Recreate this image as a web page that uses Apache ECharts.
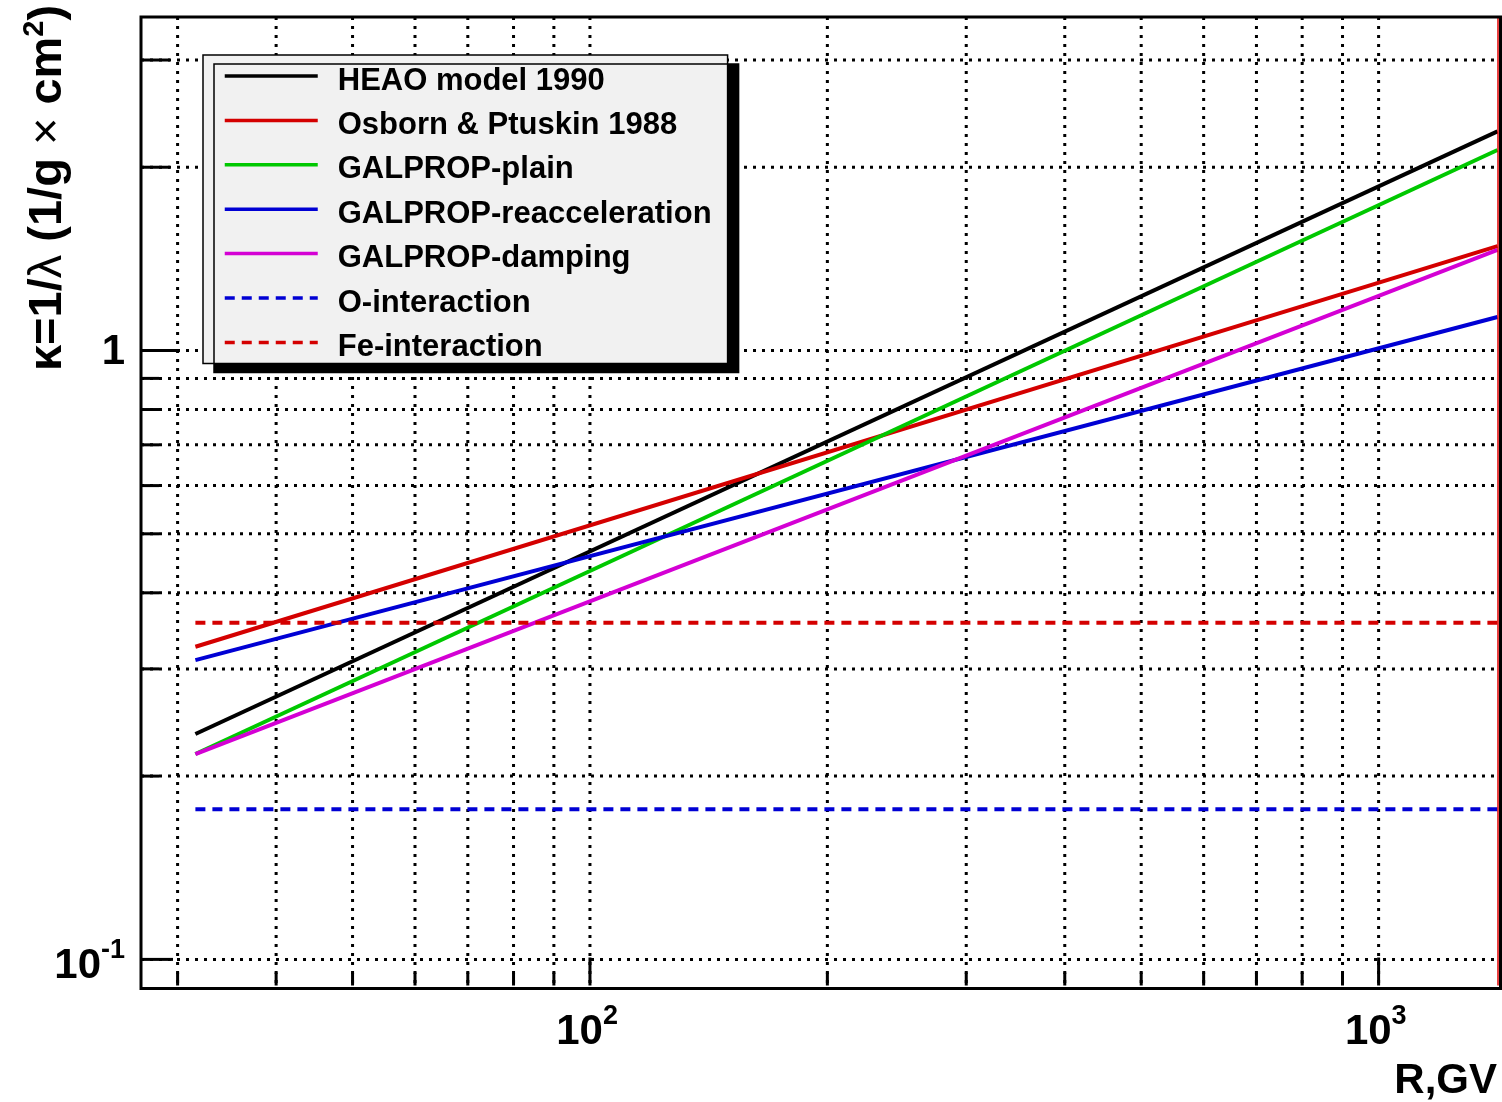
<!DOCTYPE html>
<html>
<head>
<meta charset="utf-8">
<script src="https://cdn.jsdelivr.net/npm/echarts@6/dist/echarts.min.js"></script>
<style>
  html, body { margin: 0; padding: 0; background: #fff; }
  #chart { width: 1502px; height: 1102px; }
</style>
</head>
<body>
<div id="chart"></div>
<script>
// rigidity R (GV) at the two ends of each curve
const rigidity = [31.6, 1415];

// kappa = 1/lambda values
const heao = [0.2345, 2.29];
const osborn = [0.3262, 1.484];
const galpropPlain = [0.2174, 2.135];
const galpropReacc = [0.3101, 1.135];
const galpropDamping = [0.2174, 1.463];
const oInteraction = [0.1765, 0.1765];
const feInteraction = [0.3572, 0.3572];

const seriesNames = ['HEAO model 1990', 'Osborn & Ptuskin 1988', 'GALPROP-plain',
  'GALPROP-reacceleration', 'GALPROP-damping', 'O-interaction', 'Fe-interaction'];

// axis ranges and ticks
const xMin = 26.96, xMax = 1415;
const yMin = 0.0906, yMax = 3.53;
const xMajor = [100, 1000];
const xMajorExp = ['2', '3'];
const xMinor = [30, 40, 50, 60, 70, 80, 90, 200, 300, 400, 500, 600, 700, 800, 900];
const yMajor = [0.1, 1];
const yMajorBase = ['10', '1'];
const yMajorExp = ['-1', ''];
const yMinor = [0.2, 0.3, 0.4, 0.5, 0.6, 0.7, 0.8, 0.9, 2, 3];

const FONT = '"Liberation Sans", Arial, Helvetica, sans-serif';
const gridStyle = { stroke: '#000', lineWidth: 3, lineDash: [3, 6], fill: null };
const tickStyle = { stroke: '#000', lineWidth: 3, fill: null };

function pairs(ys) {
  return rigidity.map((r, i) => [r, ys[i]]);
}

function renderXTick(params, api) {
  const cs = params.coordSys;
  const major = api.value(2) === 1;
  const x = api.coord([api.value(0), 1])[0];
  const bottom = cs.y + cs.height;
  const children = [
    { type: 'line', shape: { x1: x, y1: cs.y, x2: x, y2: bottom }, style: gridStyle },
    { type: 'line', shape: { x1: x, y1: bottom, x2: x, y2: bottom - (major ? 28 : 13) }, style: tickStyle }
  ];
  if (major) {
    const i = api.value(3);
    children.push({
      type: 'text',
      style: { text: '10', x: x + 13, y: bottom + 47, fill: '#000', align: 'right', verticalAlign: 'middle',
        font: 'bold 42px ' + FONT }
    });
    children.push({
      type: 'text',
      style: { text: xMajorExp[i], x: x + 13, y: bottom + 31, fill: '#000', align: 'left', verticalAlign: 'middle',
        font: 'bold 27px ' + FONT }
    });
  }
  return { type: 'group', children: children };
}

function renderYTick(params, api) {
  const cs = params.coordSys;
  const major = api.value(2) === 1;
  const v = api.value(1);
  const y = api.coord([100, v])[1];
  const left = cs.x;
  let len = 18;
  if (major) len = v >= 1 ? 38 : 32;
  else if (v >= 1) len = 29;
  const children = [
    { type: 'line', shape: { x1: left, y1: y, x2: left + cs.width, y2: y }, style: gridStyle },
    { type: 'line', shape: { x1: left, y1: y, x2: left + len, y2: y }, style: tickStyle }
  ];
  if (major) {
    const i = api.value(3);
    const exp = yMajorExp[i];
    if (exp) {
      children.push({
        type: 'text',
        style: { text: exp, x: left - 16, y: y - 9, fill: '#000', align: 'right', verticalAlign: 'middle',
          font: 'bold 27px ' + FONT }
      });
      children.push({
        type: 'text',
        style: { text: yMajorBase[i], x: left - 40, y: y + 7, fill: '#000', align: 'right', verticalAlign: 'middle',
          font: 'bold 42px ' + FONT }
      });
    } else {
      children.push({
        type: 'text',
        style: { text: yMajorBase[i], x: left - 16, y: y + 2, fill: '#000', align: 'right', verticalAlign: 'middle',
          font: 'bold 42px ' + FONT }
      });
    }
  }
  return { type: 'group', children: children };
}

const xTickData = xMajor.map((v, i) => [v, 1, 1, i]).concat(xMinor.map(v => [v, 1, 0, -1]));
const yTickData = yMajor.map((v, i) => [100, v, 1, i]).concat(yMinor.map(v => [100, v, 0, -1]));

function lineSeries(name, ys, color, dashed) {
  return {
    name: name,
    type: 'line',
    data: pairs(ys),
    symbol: 'none',
    showSymbol: false,
    z: 3,
    silent: true,
    lineStyle: { color: color, width: 4, type: dashed ? [10, 7] : 'solid' },
    itemStyle: { color: color }
  };
}

const chart = echarts.init(document.getElementById('chart'), null, { renderer: 'canvas' });

const series = [
  { type: 'custom', renderItem: renderXTick, data: xTickData, clip: false, silent: true, z: 1,
    encode: { x: 0, y: 1 } },
  { type: 'custom', renderItem: renderYTick, data: yTickData, clip: false, silent: true, z: 1,
    encode: { x: 0, y: 1 } },
  lineSeries(seriesNames[0], heao, '#000000', false),
  lineSeries(seriesNames[1], osborn, '#d40000', false),
  lineSeries(seriesNames[2], galpropPlain, '#00c800', false),
  lineSeries(seriesNames[3], galpropReacc, '#0000d4', false),
  lineSeries(seriesNames[4], galpropDamping, '#d400d4', false),
  lineSeries(seriesNames[5], oInteraction, '#0000d4', true),
  lineSeries(seriesNames[6], feInteraction, '#d40000', true)
];

// red inner frame at the bottom and right of the plot
series[2].markLine = {
  silent: true,
  symbol: ['none', 'none'],
  label: { show: false },
  animation: false,
  data: [
    { yAxis: yMin, lineStyle: { color: '#e00000', width: 2.5, type: 'solid' } },
    { xAxis: xMax, lineStyle: { color: '#e00000', width: 1.5, type: 'solid' } }
  ]
};

const option = {
  animation: false,
  backgroundColor: '#fff',
  grid: { left: 141, top: 17, right: 4.5, bottom: 116.5, show: false },
  xAxis: {
    type: 'log', logBase: 10, min: xMin, max: xMax,
    axisLine: { show: false }, axisTick: { show: false }, axisLabel: { show: false },
    splitLine: { show: false }, minorSplitLine: { show: false }
  },
  yAxis: {
    type: 'log', logBase: 10, min: yMin, max: yMax,
    axisLine: { show: false }, axisTick: { show: false }, axisLabel: { show: false },
    splitLine: { show: false }, minorSplitLine: { show: false }
  },
  legend: {
    data: seriesNames,
    orient: 'vertical',
    left: 203,
    top: 55,
    padding: [0.5, 16, 0.5, 20],
    itemWidth: 93,
    itemHeight: 30,
    itemGap: 3.4,
    selectedMode: false,
    backgroundColor: '#f1f1f1',
    borderColor: '#000',
    borderWidth: 1.5,
    shadowColor: '#000',
    shadowBlur: 0,
    shadowOffsetX: 11,
    shadowOffsetY: 9,
    itemStyle: { opacity: 0 },
    lineStyle: { width: 3.5 },
    formatter: '{t|{name}}',
    textStyle: {
      color: '#000', fontSize: 31, fontWeight: 'bold', fontFamily: FONT,
      rich: {
        t: {
          color: '#000', fontSize: 31, fontWeight: 'bold', fontFamily: FONT,
          lineHeight: 20, padding: [10, 0, 0, 15]
        }
      }
    }
  },
  graphic: [
    {
      type: 'rect',
      z: 100,
      silent: true,
      shape: { x: 141, y: 17, width: 1359.5, height: 971.5 },
      style: { fill: null, stroke: '#000', lineWidth: 3 }
    },
    {
      type: 'text',
      x: 46, y: 188,
      rotation: Math.PI / 2,
      silent: true,
      style: {
        text: '{a|κ=1/}{b|λ}{a| (1/g }{b|×}{a| cm}{s|2}{a|)}',
        align: 'center',
        verticalAlign: 'middle',
        fill: '#000',
        rich: {
          a: { fontSize: 47, fontWeight: 'bold', fontFamily: FONT, lineHeight: 52, verticalAlign: 'bottom' },
          b: { fontSize: 47, fontWeight: 'normal', fontFamily: FONT, lineHeight: 52, verticalAlign: 'bottom' },
          s: { fontSize: 29, fontWeight: 'bold', fontFamily: FONT, lineHeight: 26, verticalAlign: 'top' }
        }
      }
    },
    {
      type: 'text',
      right: 5,
      top: 1060,
      silent: true,
      style: {
        text: 'R,GV',
        fill: '#000',
        font: 'bold 42px ' + FONT
      }
    }
  ],
  series: series
};

chart.setOption(option);
</script>
</body>
</html>
